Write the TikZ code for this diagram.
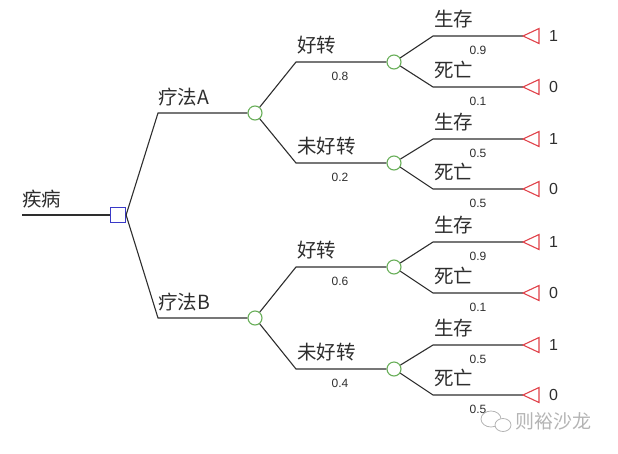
\documentclass[tikz,border=0pt]{standalone}
\usepackage{fontspec}
\usepackage{tikz}
\usetikzlibrary{calc,positioning}
\newfontfamily\cjk{Noto Sans CJK SC}
\newfontfamily\probfont{Liberation Sans}
\definecolor{Ink}{HTML}{2E2E2E}
\definecolor{DecBlue}{HTML}{3A3AC8}
\definecolor{ChGreen}{HTML}{68AE58}
\definecolor{TipRed}{HTML}{E0424A}
\definecolor{Mark}{HTML}{B4B4B4}
\tikzset{
  branch/.style={draw=Ink,line width=1.1pt},
  decision/.style={draw=DecBlue,line width=1.2pt,minimum size=15pt,inner sep=0pt},
  chance/.style={circle,draw=ChGreen,line width=1.1pt,minimum size=14pt,inner sep=0pt},
  payoff/.style={draw=TipRed,line width=1.1pt,line join=miter},
  lab/.style={anchor=south west,inner sep=0pt,text=Ink,font=\cjk\fontsize{19.5}{21}\selectfont},
  prob/.style={inner sep=0pt,text=Ink,font=\probfont\fontsize{12}{14}\selectfont},
  val/.style={anchor=west,inner sep=0pt,text=Ink,font=\probfont\fontsize{16}{18}\selectfont}
}

\begin{document}
\begin{tikzpicture}[x=1pt,y=-1pt]
        \useasboundingbox (0,0) rectangle (618,453);
        \node[decision] (d) at (118,215) {};
        \coordinate (root) at (22,215);
        \draw[branch] (root) -- (d);
        \node[lab] at (22,208) {疾病};
        \foreach \t/\y in {A/113,B/318}{
          \node[chance] (c\t) at (255,\y) {};
          \coordinate (e\t) at (158,\y);
          \draw[branch] (d.east) -- (e\t) -- (c\t);
          \node[lab] at (158,\y-7) {疗法\t};
        }
        \foreach \n/\p/\y/\lab/\pr in {1/A/62/好转/0.8,2/A/163/未好转/0.2,3/B/267/好转/0.6,4/B/369/未好转/0.4}{
          \node[chance] (c\n) at (394,\y) {};
          \coordinate (e\n) at (296,\y);
          \draw[branch] (c\p) -- (e\n) -- (c\n);
          \node[lab] at (297,\y-8) {\lab};
          \node[prob] at (340,\y+14) {\pr};
        }
        \foreach \i/\p/\y/\lab/\pr/\val in {1/1/36/生存/0.9/1,2/1/87/死亡/0.1/0,3/2/139/生存/0.5/1,4/2/189/死亡/0.5/0,
                                            5/3/242/生存/0.9/1,6/3/293/死亡/0.1/0,7/4/345/生存/0.5/1,8/4/395/死亡/0.5/0}{
          \coordinate (f\i) at (433,\y);
          \coordinate (t\i) at (523,\y);
          \draw[branch] (c\p) -- (f\i) -- (t\i);
          \draw[payoff] (t\i) -- ++(16,-7.5) -- ++(0,15) -- cycle;
          \node[lab] at (434,\y-8) {\lab};
          \node[prob] at (478,\y+14) {\pr};
          \node[val] at (549,\y) {\val};
        }
        % watermark
        \draw[Mark,line width=0.8pt] (491,419) ellipse (10 and 8);
        \draw[Mark,line width=0.8pt,fill=white] (503,425) ellipse (8 and 6.5);
        \node[anchor=west,inner sep=0pt,text=Mark,font=\cjk\fontsize{19}{21}\selectfont] at (515,421) {则裕沙龙};
      \end{tikzpicture}
\end{document}
